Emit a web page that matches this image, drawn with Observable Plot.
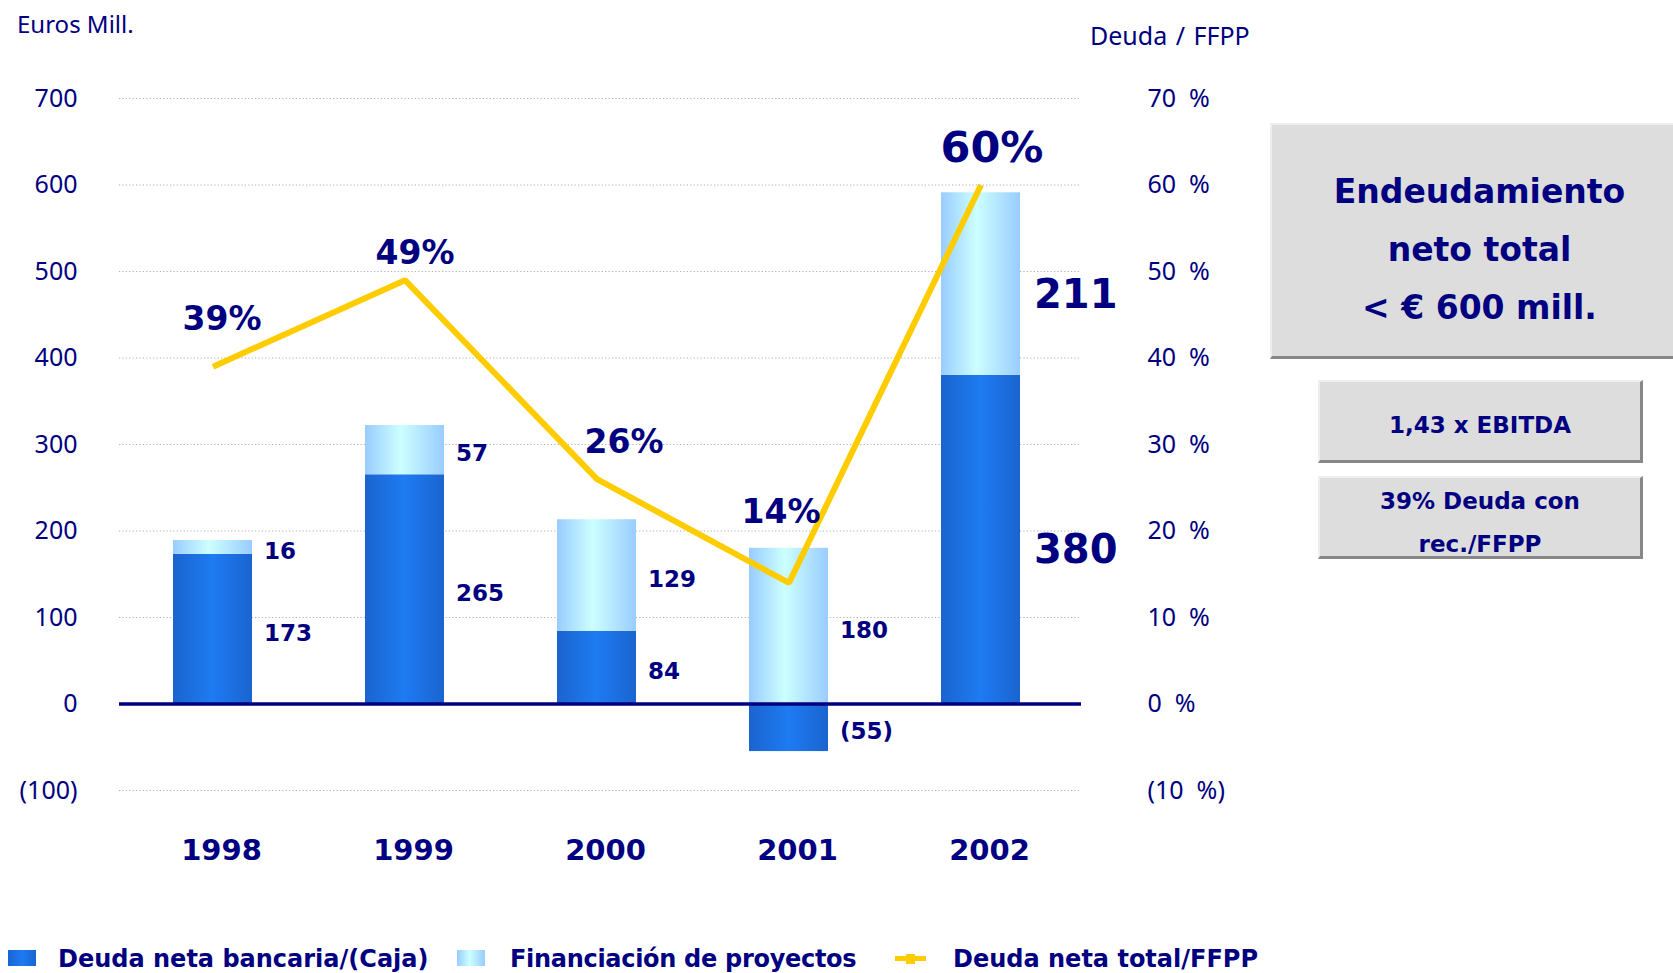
<!DOCTYPE html>
<html>
<head>
<meta charset="utf-8">
<script src="https://cdn.jsdelivr.net/npm/d3@7"></script>
<script src="https://cdn.jsdelivr.net/npm/@observablehq/plot@0.6"></script>
<style>
  html, body { margin: 0; padding: 0; background: #fff; }
  #wrap { position: relative; width: 1673px; height: 973px; overflow: hidden; background: #fff; color: #000080; }
  #chart { position: absolute; left: 0; top: 0; }
  .lbl { position: absolute; font-family: "Noto Sans", sans-serif; font-size: 24px; color: #000080; white-space: nowrap; line-height: 1; }
  .box { position: absolute; box-sizing: border-box; background: #dddddd;
         border-top: 2px solid #eeeeee; border-left: 2px solid #eeeeee;
         border-right: 3px solid #878787; border-bottom: 3px solid #878787;
         font-family: "DejaVu Sans", sans-serif; font-weight: bold; color: #000080; text-align: center; }
  .legend { position: absolute; left: 0; top: 925px; width: 1673px; height: 48px; }
  .lg-item { position: absolute; font-family: "DejaVu Sans", sans-serif; font-weight: bold; font-size: 24px; color: #000080; white-space: nowrap; line-height: 1; top: 22px; }
  .sw { position: absolute; top: 25px; width: 28px; height: 16px; }
</style>
</head>
<body>
<div id="wrap">
  <div id="chart"></div>
  <div class="lbl" style="left:17px; top:12px;">Euros Mill.</div>
  <div class="lbl" style="left:1090px; top:23px; font-size:25px; word-spacing:2px;">Deuda / FFPP</div>

  <div class="box" style="left:1270px; top:123px; width:420px; height:236px; font-size:33px; line-height:58px; padding-top:38px;">
    Endeudamiento<br>neto total<br>&lt; € 600 mill.
  </div>
  <div class="box" style="left:1318px; top:380px; width:325px; height:83px; font-size:23px; line-height:24px; padding-top:31px;">
    1,43 x EBITDA
  </div>
  <div class="box" style="left:1318px; top:476px; width:325px; height:83px; font-size:23px; line-height:43px; padding-top:2px;">
    39% Deuda con<br>rec./FFPP
  </div>

  <div class="legend">
    <div class="sw" style="left:8px; background:linear-gradient(to right,#1a64cf,#1e7bf2 50%,#1a64cf);"></div>
    <div class="lg-item" style="left:58px;">Deuda neta bancaria/(Caja)</div>
    <div class="sw" style="left:457px; background:linear-gradient(to right,#99ccff,#ccffff 45%,#99ccff);"></div>
    <div class="lg-item" style="left:510px; letter-spacing:-0.3px;">Financiación de proyectos</div>
    <div class="sw" style="left:895px; top:31px; width:31px; height:5px; background:#ffcc00;"></div>
    <div class="sw" style="left:906px; top:29px; width:9px; height:10px; background:#ffcc00;"></div>
    <div class="lg-item" style="left:953px;">Deuda neta total/FFPP</div>
  </div>
</div>
<script>
// ---- data ----
const years = ["1998", "1999", "2000", "2001", "2002"];
const deudaBancaria = [173, 265, 84, -55, 380];
const financiacion = [16, 57, 129, 180, 211];
const ratioPct = [39, 49, 26, 14, 60];
const yTicks = [-100, 0, 100, 200, 300, 400, 500, 600, 700];
const seriesNames = ["Deuda neta bancaria/(Caja)", "Financiación de proyectos"];

const navy = "#000080";
const bars = [];
years.forEach((y, i) => bars.push({year: y, series: seriesNames[0], value: deudaBancaria[i]}));
years.forEach((y, i) => bars.push({year: y, series: seriesNames[1], value: financiacion[i]}));
const line = years.map((y, i) => ({year: y, pct: ratioPct[i], v: ratioPct[i] * 10}));

const fmtVal = v => v < 0 ? `(${-v})` : `${v}`;
const leftFmt = v => v < 0 ? `(${-v})` : `${v}`;
const rightFmt = v => v < 0 ? `(${-v / 10}\u00a0\u00a0%)` : `${v / 10}\u00a0\u00a0%`;

function pctLabel(year, dx, dy, size) {
  return Plot.text(line.filter(d => d.year === year), {
    x: "year", y: "v", text: d => `${d.pct}%`, dx, dy,
    fontSize: size, fontWeight: "bold", fill: navy, fontFamily: "DejaVu Sans"
  });
}

const plot = Plot.plot({
  width: 1673,
  height: 925,
  marginLeft: 119,
  marginRight: 592,
  marginTop: 98,
  marginBottom: 135,
  style: {fontFamily: "DejaVu Sans", color: navy, background: "transparent", overflow: "visible"},
  x: {domain: years, paddingInner: 0.59, paddingOuter: 0.295, align: 0.472},
  y: {domain: [-100, 700]},
  color: {domain: seriesNames, range: ["url(#gDark)", "url(#gLight)"]},
  marks: [
    Plot.gridY(yTicks.filter(t => t !== 0), {stroke: "#b0b0b0", strokeOpacity: 1, strokeWidth: 1.2, strokeDasharray: "1.2,2.2"}),
    Plot.axisY(yTicks, {anchor: "left", tickSize: 0, tickPadding: 42, tickFormat: leftFmt,
      fontSize: 25, fontFamily: "Noto Sans", fill: navy, label: null}),
    Plot.axisY(yTicks, {anchor: "right", tickSize: 0, tickPadding: 66, tickFormat: rightFmt,
      fontSize: 25, fontFamily: "Noto Sans", fill: navy, label: null, textAnchor: "start"}),
    Plot.axisX({tickSize: 0, tickPadding: 49, dx: 8.5, fontSize: 29, fontWeight: "bold", fill: navy, label: null}),
    Plot.barY(bars, Plot.stackY({x: "year", y: "value", fill: "series"})),
    Plot.ruleY([0], {stroke: navy, strokeWidth: 3.5}),
    Plot.text(bars, Plot.stackY({
      x: "year", y: "value", text: d => fmtVal(d.value), z: "series",
      filter: d => d.year !== "2002",
      dx: 51, dy: 4, textAnchor: "start", fontSize: 23, fontWeight: "bold", fill: navy
    })),
    Plot.text(bars, Plot.stackY({
      x: "year", y: "value", text: d => fmtVal(d.value), z: "series",
      filter: d => d.year === "2002",
      dx: 53, dy: 11, textAnchor: "start", fontSize: 40, fontWeight: "bold", fill: navy
    })),
    Plot.line(line, {x: "year", y: "v", stroke: "#ffcc00", strokeWidth: 6, strokeLinejoin: "miter", strokeLinecap: "butt"}),
    pctLabel("1998", 9, -47, 33),
    pctLabel("1999", 10, -27, 33),
    pctLabel("2000", 27, -37, 33),
    pctLabel("2001", -8, -70, 33),
    pctLabel("2002", 11, -37, 43)
  ]
});

// gradient definitions for the bar fills
const ns = "http://www.w3.org/2000/svg";
const defs = document.createElementNS(ns, "defs");
function grad(id, stops) {
  const g = document.createElementNS(ns, "linearGradient");
  g.setAttribute("id", id);
  g.setAttribute("x1", "0"); g.setAttribute("x2", "1"); g.setAttribute("y1", "0"); g.setAttribute("y2", "0");
  stops.forEach(([o, c]) => {
    const s = document.createElementNS(ns, "stop");
    s.setAttribute("offset", o); s.setAttribute("stop-color", c);
    g.appendChild(s);
  });
  defs.appendChild(g);
}
grad("gDark", [["0%", "#1a64cf"], ["50%", "#1e7bf2"], ["100%", "#1a64cf"]]);
grad("gLight", [["0%", "#99ccff"], ["45%", "#ccffff"], ["100%", "#99ccff"]]);
plot.insertBefore(defs, plot.firstChild);

document.getElementById("chart").appendChild(plot);
</script>
</body>
</html>
